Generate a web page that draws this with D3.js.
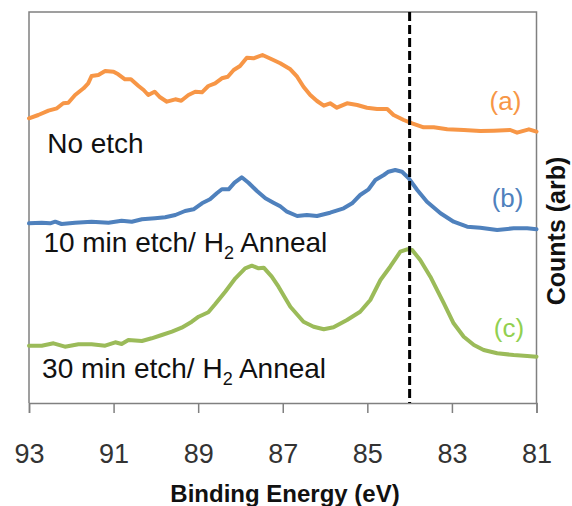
<!DOCTYPE html>
<html>
<head>
<meta charset="utf-8">
<script src="https://cdn.jsdelivr.net/npm/d3@7"></script>
<style>
  html, body { margin: 0; padding: 0; background: #fff; }
  svg { display: block; font-family: "Liberation Sans", Arial, sans-serif; }
</style>
</head>
<body>
<svg id="chart" width="572" height="506"></svg>
<script>
// ---- Data (binding energy in eV, counts in arbitrary offset units) ----
const xTicks = [93, 91, 89, 87, 85, 83, 81];
const refLineEV = 84.0;

const seriesNames = ["(a)", "(b)", "(c)"];
const seriesColors = ["#F79646", "#4F81BD", "#9BBB59"];
const labelColors = ["#F79646", "#4F81BD", "#92D050"];

const energyA = [93.00,92.78,92.54,92.34,92.19,92.07,91.91,91.71,91.60,91.52,91.36,91.20,91.00,90.89,90.73,90.59,90.41,90.29,90.18,90.03,89.90,89.74,89.54,89.40,89.23,89.07,88.91,88.76,88.60,88.44,88.30,88.16,88.01,87.85,87.69,87.48,87.26,87.06,86.82,86.66,86.51,86.35,86.19,86.03,85.88,85.72,85.48,85.24,85.01,84.77,84.53,84.38,84.14,83.94,83.67,83.43,83.11,82.72,82.33,82.01,81.62,81.46,81.18,81.00];
const countsA = [284.7,288,292.3,294.7,299.7,300.3,308,314.7,319.7,327,328,332,331.3,328.7,323.7,323.7,317,313,308,311.3,305.7,301.3,303.7,302.3,308,311.3,310.7,317,319.7,324.7,326.3,333,337,345.3,344.7,348,343.7,339.7,333.7,326.3,316.3,308,302,297.3,299.7,295.3,299.7,298,295.3,294,294,288,283,279.7,275.7,275.7,273.7,273,272,272.3,273,270.3,273.7,271.3];

const energyB = [93.00,92.70,92.50,92.38,92.23,91.91,91.52,91.12,90.81,90.57,90.33,90.02,89.78,89.54,89.31,89.11,88.91,88.72,88.56,88.44,88.28,88.14,87.97,87.81,87.61,87.41,87.22,87.06,86.90,86.66,86.43,86.19,85.88,85.56,85.36,85.17,84.97,84.81,84.61,84.50,84.34,84.18,84.02,83.82,83.59,83.27,82.96,82.64,82.33,81.93,81.54,81.22,81.00];
const countsB = [179.7,180.3,179.7,181.3,179,180.3,181.3,180.3,182.3,181.3,183.7,184.7,185.7,188,192,193.7,199.7,203.7,209.7,213.7,213.7,220.3,225.7,220.3,212,204.7,200.3,196.7,191.3,187,188,187,190.3,194.7,199.7,208,213.7,223,228,231.3,233,231.3,224.7,213,201.3,189.7,181.3,176.3,175.3,173,174.7,174.7,173.7];

const energyC = [93.00,92.70,92.42,92.15,91.83,91.52,91.20,90.96,90.81,90.65,90.33,90.10,89.86,89.62,89.39,89.15,88.99,88.76,88.60,88.36,88.12,87.89,87.73,87.57,87.45,87.26,87.10,86.94,86.82,86.51,86.27,86.03,85.80,85.48,85.17,84.93,84.69,84.46,84.22,84.06,83.94,83.75,83.51,83.19,82.96,82.72,82.48,82.25,81.93,81.54,81.22,81.00];
const countsC = [57.3,57.3,59.7,56.3,58.7,58.7,57.3,60.7,59,63,62,64.7,68,71.3,75.3,81.3,86.3,90.7,98.7,111.3,124.7,134.7,137.3,134.7,135.3,126.3,116.3,104.7,96.3,81.3,76.3,73.7,75.7,83,91.3,103,123,136.3,151.3,153.7,153,143,126.3,99.7,79.7,66.3,58,53,49.7,48,47,46.3];

const sampleLabels = ["No etch", "10 min etch/ H", "30 min etch/ H"];
const xTitle = "Binding Energy (eV)";
const yTitle = "Counts (arb)";

// ---- Layout ----
const svg = d3.select("#chart");
const pLeft = 29, pRight = 536.5, pTop = 12, pBottom = 403;

const x = d3.scaleLinear().domain([93, 81]).range([pLeft, pRight]);
const y = d3.scaleLinear().domain([0, 391]).range([pBottom, pTop]);

const frameColor = "#808080";

// Frame (top, left, right)
svg.append("path")
  .attr("d", `M${pLeft},${pBottom} V${pTop} H${pRight} V${pBottom}`)
  .attr("fill", "none").attr("stroke", frameColor).attr("stroke-width", 1.5);

// Bottom axis
const xAxis = d3.axisBottom(x).tickValues(xTicks).tickSize(10).tickPadding(30)
  .tickFormat(d3.format("d"));
const gx = svg.append("g").attr("transform", `translate(0,${pBottom})`).call(xAxis);
gx.select(".domain").attr("stroke", frameColor).attr("stroke-width", 1.5);
gx.selectAll(".tick line").attr("stroke", frameColor).attr("stroke-width", 1.5);
gx.selectAll(".tick text")
  .attr("font-size", 27).attr("fill", "#333")
  .attr("font-family", "Liberation Sans, Arial, sans-serif")
  .attr("dy", "0")
  .attr("y", 60);

// Series
const series = [
  { e: energyA, c: countsA },
  { e: energyB, c: countsB },
  { e: energyC, c: countsC }
];
const line = d3.line().x(d => x(d[0])).y(d => y(d[1])).curve(d3.curveLinear);
series.forEach((s, i) => {
  const pts = s.e.map((e, j) => [e, s.c[j]]);
  svg.append("path").datum(pts)
    .attr("d", line)
    .attr("fill", "none")
    .attr("stroke", seriesColors[i])
    .attr("stroke-width", 4)
    .attr("stroke-linejoin", "round")
    .attr("stroke-linecap", "round");
});

// Dashed reference line
svg.append("line")
  .attr("x1", x(refLineEV)).attr("x2", x(refLineEV))
  .attr("y1", pTop).attr("y2", pBottom)
  .attr("stroke", "#000").attr("stroke-width", 3)
  .attr("stroke-dasharray", "9,4");

// Series letter labels
const letterPos = [[82.11, 110], [82.06, 207], [82.01, 337]];
seriesNames.forEach((n, i) => {
  svg.append("text")
    .attr("x", x(letterPos[i][0])).attr("y", letterPos[i][1])
    .attr("font-size", 26).attr("fill", labelColors[i])
    .text(n);
});

// Sample labels
const samplePos = [[92.57, 153], [92.66, 252], [92.69, 378]];
sampleLabels.forEach((t, i) => {
  const txt = svg.append("text")
    .attr("x", x(samplePos[i][0])).attr("y", samplePos[i][1])
    .attr("font-size", 28).attr("fill", "#111");
  txt.append("tspan").text(t);
  if (i > 0) {
    txt.append("tspan").attr("font-size", 18).attr("dy", 7).text("2");
    txt.append("tspan").attr("dy", -7).text(" Anneal");
  }
});

// Axis titles
svg.append("text")
  .attr("x", 285).attr("y", 502)
  .attr("text-anchor", "middle")
  .attr("font-size", 24).attr("font-weight", "bold").attr("fill", "#111")
  .text(xTitle);

svg.append("text")
  .attr("transform", "translate(565,231) rotate(-90)")
  .attr("text-anchor", "middle")
  .attr("font-size", 25).attr("font-weight", "bold").attr("fill", "#111")
  .text(yTitle);
</script>
</body>
</html>
